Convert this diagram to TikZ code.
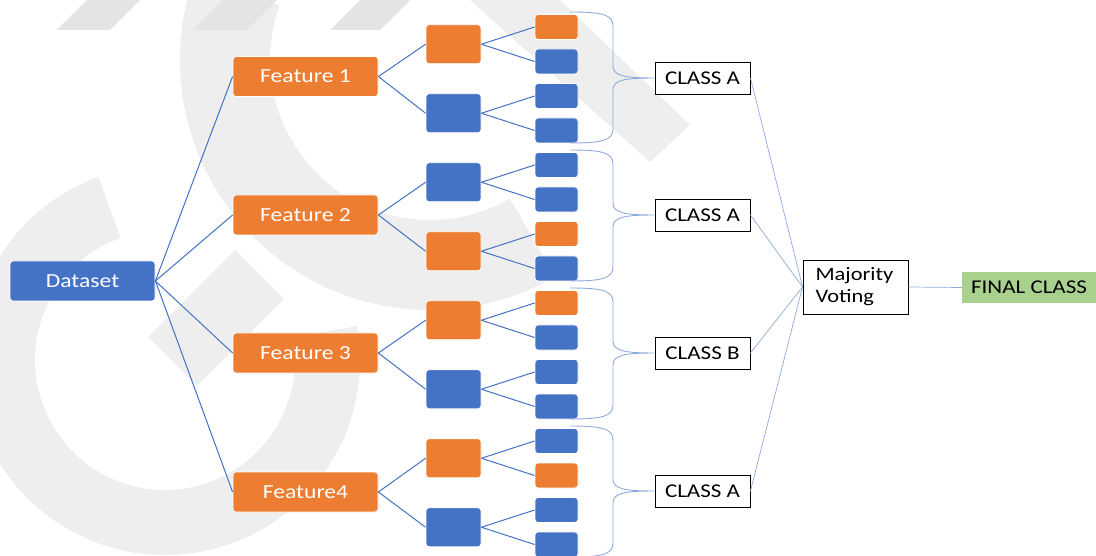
\documentclass[tikz,border=0pt]{standalone}
\usepackage{fontspec}
\setmainfont{Carlito}[FakeStretch=1.18]
\usetikzlibrary{calc}
\definecolor{cblue}{HTML}{4472C4}
\definecolor{corange}{HTML}{ED7D31}
\definecolor{cgreen}{HTML}{A9D18E}
\definecolor{clight}{HTML}{8FAADC}
\definecolor{wm}{HTML}{EEEEEE}
\definecolor{wmdark}{HTML}{E4E4E4}
\begin{document}
\begin{tikzpicture}[x=1pt,y=-1pt,
  boxbase/.style={rectangle, rounded corners=3pt, draw=white, line width=0.8pt, inner sep=0pt},
  bigbox/.style={boxbase, minimum width=145pt, minimum height=40pt, text=white, font=\fontsize{20}{24}\selectfont},
  midbox/.style={boxbase, minimum width=55pt, minimum height=39pt},
  leafbox/.style={boxbase, minimum width=43pt, minimum height=25pt},
  ob/.style={fill=corange},
  bb/.style={fill=cblue},
  treeline/.style={draw=cblue, line width=1pt},
  lightline/.style={draw=clight, line width=0.7pt},
  bracestyle/.style={draw=clight, line width=0.9pt},
  classbox/.style={rectangle, draw=black, line width=0.9pt, fill=white, minimum width=95pt, minimum height=32pt, inner sep=0pt, font=\fontsize{19.5}{22}\selectfont},
]
\useasboundingbox (0,0) rectangle (1096,556);
% watermark
\begin{scope}
\clip (0,0) rectangle (1096,556);
\fill[wm] (165,360) ++(-10:195) arc[start angle=-10, end angle=250, radius=195]
   -- ($(165,360)+(250:130)$) arc[start angle=250, end angle=-10, radius=130] -- cycle;
\fill[wm] (430,60) ++(60:250) arc[start angle=60, end angle=200, radius=250]
   -- ($(430,60)+(200:160)$) arc[start angle=200, end angle=60, radius=160] -- cycle;
\fill[wm] (470,0) -- (560,0) -- (690,125) -- (650,162) -- cycle;
\fill[wm] (148,337) -- (235,250) -- (284,299) -- (197,386) -- cycle;
\fill[wmdark] (57,30) -- (110,30) -- (140,0) -- (87,0) -- cycle;
\fill[wmdark] (193,30) -- (247,30) -- (277,0) -- (223,0) -- cycle;
\fill[wmdark] (330,30) -- (380,30) -- (410,0) -- (360,0) -- cycle;
\end{scope}
% nodes
\node[bigbox, bb] (ds) at (82.5,281) {Dataset};
\node[bigbox, ob] (f1) at (305.5,76.5) {Feature 1};
\node[bigbox, ob] (f2) at (305.5,215) {Feature 2};
\node[bigbox, ob] (f3) at (305.5,353) {Feature 3};
\node[bigbox, ob] (f4) at (305.5,492) {Feature4};
\foreach \i/\c in {1/ob,2/bb,3/bb,4/ob,5/ob,6/bb,7/ob,8/bb}{
  \node[midbox, \c] (m\i) at (453.5,{44.25+69*(\i-1)}) {};
}
\foreach \i/\c in {1/ob,2/bb,3/bb,4/bb,5/bb,6/bb,7/ob,8/bb,9/ob,10/bb,11/bb,12/bb,13/bb,14/ob,15/bb,16/bb}{
  \node[leafbox, \c] (l\i) at (556.5,{27+34.5*(\i-1)}) {};
}
\node[classbox] (c1) at (702.5,78) {CLASS A};
\node[classbox] (c2) at (702.5,215) {CLASS A};
\node[classbox] (c3) at (702.5,353) {CLASS B};
\node[classbox] (c4) at (702.5,491) {CLASS A};
\node[rectangle, draw=black, line width=0.9pt, fill=white, minimum width=105pt, minimum height=54pt, inner sep=0pt,
  font=\fontsize{19}{22}\selectfont, align=left, text width=80pt] (mv) at (855.5,287) {Majority\\Voting};
\node[rectangle, fill=cgreen, minimum width=134pt, minimum height=31pt, inner sep=0pt,
  font=\fontsize{19.5}{22}\selectfont] (fc) at (1029,287.5) {FINAL CLASS};
% tree connectors
\foreach \f in {1,2,3,4}{ \draw[treeline] (ds.east) -- (f\f.west); }
\foreach \f/\a/\b in {1/1/2,2/3/4,3/5/6,4/7/8}{
  \draw[treeline] (f\f.east) -- (m\a.west);
  \draw[treeline] (f\f.east) -- (m\b.west);
}
\foreach \m in {1,...,8}{
  \pgfmathtruncatemacro{\la}{2*\m-1}
  \pgfmathtruncatemacro{\lb}{2*\m}
  \draw[treeline] (m\m.east) -- (l\la.west);
  \draw[treeline] (m\m.east) -- (l\lb.west);
}
% braces
\foreach \k in {1,2,3,4}{
  \pgfmathsetmacro{\t}{12+138*(\k-1)}
  \pgfmathsetmacro{\b}{143+138*(\k-1)}
  \coordinate (bt\k) at (570,\t);
  \coordinate (bb\k) at (570,\b);
  \path (c\k.west) coordinate (cw\k);
  \draw[bracestyle] (bt\k) .. controls (600,\t) and (613,\t+2) .. (613,\t+14)
     -- ($(613,0)!(cw\k)!(613,1)+(0,-12)$) .. controls ($(613,0)!(cw\k)!(613,1)+(0,-2)$) and ($(cw\k)+(-30,0)$) .. (cw\k)
     .. controls ($(cw\k)+(-30,0)$) and ($(613,0)!(cw\k)!(613,1)+(0,2)$) .. ($(613,0)!(cw\k)!(613,1)+(0,12)$)
     -- (613,\b-14) .. controls (613,\b-2) and (600,\b) .. (bb\k);
}
% voting connectors
\foreach \k in {1,2,3,4}{ \draw[lightline] (c\k.east) -- (mv.west); }
\draw[lightline] (mv.east) -- (fc.west);
\end{tikzpicture}
\end{document}
